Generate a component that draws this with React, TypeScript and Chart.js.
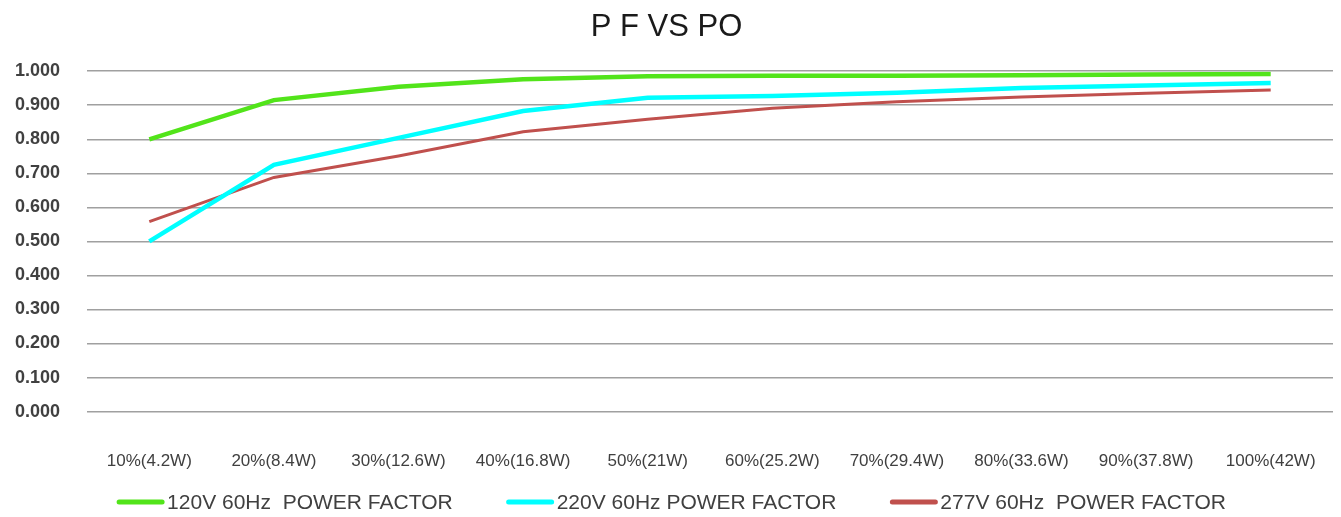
import React, { useEffect, useRef } from "react";
import { Chart, registerables } from "chart.js";

Chart.register(...registerables);

const categories = [
  "10%(4.2W)",
  "20%(8.4W)",
  "30%(12.6W)",
  "40%(16.8W)",
  "50%(21W)",
  "60%(25.2W)",
  "70%(29.4W)",
  "80%(33.6W)",
  "90%(37.8W)",
  "100%(42W)",
];

const pf120 = [0.8, 0.915, 0.954, 0.976, 0.985, 0.987, 0.987, 0.988, 0.99, 0.992];
const pf220 = [0.5, 0.725, 0.804, 0.883, 0.922, 0.927, 0.937, 0.951, 0.958, 0.965];
const pf277 = [0.558, 0.688, 0.751, 0.822, 0.859, 0.891, 0.91, 0.924, 0.935, 0.945];

const seriesLabels = [
  "120V 60Hz  POWER FACTOR",
  "220V 60Hz POWER FACTOR",
  "277V 60Hz  POWER FACTOR",
];

const FONT = "'Liberation Sans', Arial, sans-serif";

const customLegend = {
  id: "customLegend",
  afterDraw(chart: any) {
    const ctx = chart.ctx;
    const ds = chart.data.datasets;
    ctx.save();
    ctx.font = `21px ${FONT}`;
    const lineW = 47;
    const gap = 3;
    const spacing = 54;
    const widths = ds.map((d: any) => ctx.measureText(d.label).width);
    const total =
      widths.reduce((a: number, b: number) => a + b, 0) +
      ds.length * (lineW + gap) +
      (ds.length - 1) * spacing;
    let x = (chart.width - total) / 2 + 1;
    const y = chart.height - 15;
    ds.forEach((d: any, i: number) => {
      ctx.strokeStyle = d.borderColor;
      ctx.lineWidth = 5;
      ctx.lineCap = "round";
      ctx.beginPath();
      ctx.moveTo(x + 2, y);
      ctx.lineTo(x + lineW - 2, y);
      ctx.stroke();
      ctx.fillStyle = "#404040";
      ctx.textBaseline = "middle";
      ctx.textAlign = "left";
      ctx.fillText(d.label, x + lineW + gap, y + 1);
      x += lineW + gap + widths[i] + spacing;
    });
    ctx.restore();
  },
};

export default function App() {
  const canvasRef = useRef<HTMLCanvasElement | null>(null);

  useEffect(() => {
    const canvas = canvasRef.current;
    if (!canvas) return;
    const chart = new Chart(canvas, {
      type: "line",
      data: {
        labels: categories,
        datasets: [
          {
            label: seriesLabels[0],
            data: pf120,
            borderColor: "#52E41A",
            backgroundColor: "#52E41A",
            borderWidth: 4.5,
            pointRadius: 0,
            tension: 0,
          },
          {
            label: seriesLabels[1],
            data: pf220,
            borderColor: "#00FFFF",
            backgroundColor: "#00FFFF",
            borderWidth: 4.5,
            pointRadius: 0,
            tension: 0,
          },
          {
            label: seriesLabels[2],
            data: pf277,
            borderColor: "#C0504D",
            backgroundColor: "#C0504D",
            borderWidth: 3,
            pointRadius: 0,
            tension: 0,
          },
        ],
      },
      options: {
        animation: false,
        responsive: false,
        maintainAspectRatio: false,
        layout: { padding: { left: 0, right: 8, top: 0, bottom: 5 } },
        plugins: {
          legend: { display: false },
          tooltip: { enabled: false },
          title: {
            display: true,
            text: "P F VS PO",
            color: "#1a1a1a",
            font: { family: FONT, size: 31, weight: "normal" },
            padding: { top: 9, bottom: 25 },
          },
        },
        scales: {
          x: {
            offset: true,
            grid: { display: false, drawTicks: false },
            border: { display: false },
            ticks: {
              color: "#404040",
              font: { family: FONT, size: 17 },
              padding: 40,
              maxRotation: 0,
              autoSkip: false,
            },
            afterFit: (scale: any) => {
              scale.paddingLeft = 0;
              scale.paddingRight = 0;
            },
          },
          y: {
            min: 0,
            max: 1,
            grid: { color: "#A0A0A0", lineWidth: 1.5, drawTicks: false },
            border: { display: false },
            ticks: {
              stepSize: 0.1,
              color: "#404040",
              font: { family: FONT, size: 18, weight: "bold" },
              padding: 27,
              callback: (v: any) => Number(v).toFixed(3),
            },
            afterFit: (scale: any) => {
              scale.width = 87;
            },
          },
        },
      },
      plugins: [customLegend],
    });
    return () => chart.destroy();
  }, []);

  return (
    <div style={{ position: "fixed", left: 0, top: 0, width: 1341, height: 517, background: "#fff" }}>
      <canvas ref={canvasRef} width={1341} height={517} style={{ width: 1341, height: 517 }} />
    </div>
  );
}
